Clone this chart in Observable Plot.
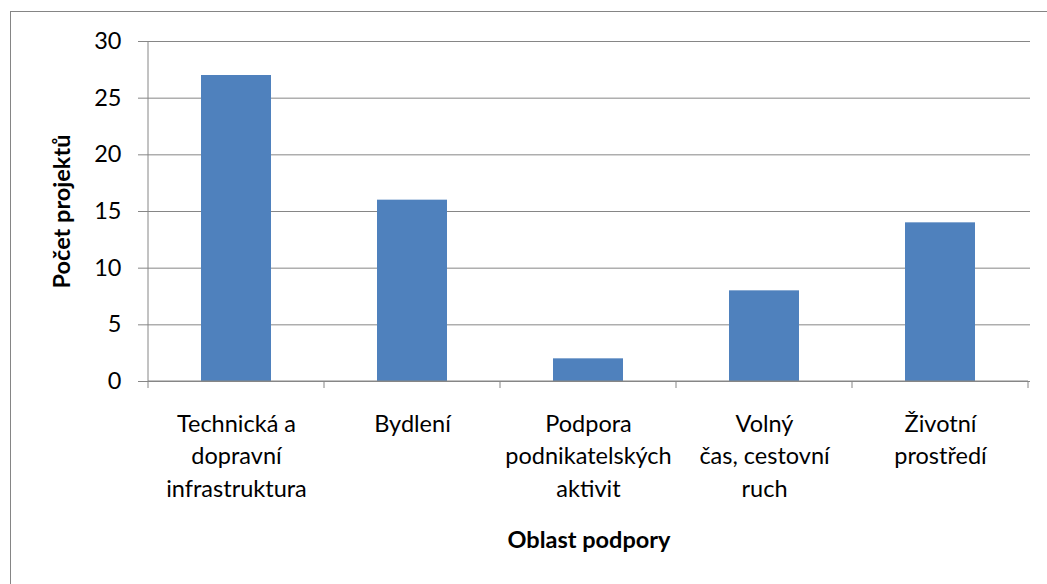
<!DOCTYPE html>
<html>
<head>
<meta charset="utf-8">
<script src="https://cdn.jsdelivr.net/npm/d3@7"></script>
<script src="https://cdn.jsdelivr.net/npm/@observablehq/plot@0.6"></script>
<style>
  html, body { margin: 0; padding: 0; background: #fff; overflow: hidden; }
  #wrap { position: relative; width: 1047px; height: 584px; }
  #chart { position: absolute; left: 0; top: 0; }
  #border { position: absolute; left: 10px; top: 11px; width: 2000px; height: 2000px;
            border-left: 1px solid #858585; border-top: 1px solid #858585; pointer-events: none; }
</style>
</head>
<body>
<div id="wrap"><div id="chart"></div><div id="border"></div></div>
<script>
const categories = ["Technická a dopravní infrastruktura", "Bydlení", "Podpora podnikatelských aktivit", "Volný čas, cestovní ruch", "Životní prostředí"];
const values = [27, 16, 2, 8, 14];
const tickLabels = ["Technická a\ndopravní\ninfrastruktura", "Bydlení", "Podpora\npodnikatelských\naktivit", "Volný\nčas, cestovní\nruch", "Životní\nprostředí"];
const yTicks = [0, 5, 10, 15, 20, 25, 30];
const xTitle = "Oblast podpory";
const yTitle = "Počet projektů";

const data = categories.map((c, i) => ({category: c, value: values[i]}));
const labelOf = new Map(categories.map((c, i) => [c, tickLabels[i]]));
const axisColor = "#868686";
const fs = 23.5;

// axis lines and category-boundary tick marks, positioned from the scales
function axisLines(index, scales, values, dimensions) {
  const x = scales.x, y = scales.y;
  const g = d3.create("svg:g").attr("stroke", axisColor).attr("stroke-width", 1);
  const bw = x.bandwidth ? x.bandwidth() : 0;
  const step = x.step ? x.step() : (x(categories[1]) - x(categories[0]));
  const edges = categories.map(c => x(c) + bw / 2 - step / 2);
  edges.push(x(categories[categories.length - 1]) + bw / 2 + step / 2);
  const y0 = y(0), yTop = y(yTicks[yTicks.length - 1]);
  g.append("line").attr("x1", edges[0]).attr("x2", edges[edges.length - 1]).attr("y1", y0).attr("y2", y0);
  g.append("line").attr("x1", edges[0]).attr("x2", edges[0]).attr("y1", yTop).attr("y2", y0);
  for (const e of edges) {
    g.append("line").attr("x1", e).attr("x2", e).attr("y1", y0).attr("y2", y0 + 7);
  }
  return g.node();
}

const plot = Plot.plot({
  width: 1047,
  height: 584,
  marginLeft: 147,
  marginRight: 17,
  marginTop: 41,
  marginBottom: 203,
  style: {fontFamily: "Lato", fontSize: fs + "px", color: "#000", background: "transparent"},
  x: {domain: categories, paddingInner: 0.6, paddingOuter: 0.3, label: null},
  y: {domain: [0, 30], label: null},
  marks: [
    Plot.gridY(yTicks, {stroke: axisColor, strokeOpacity: 1}),
    Plot.barY(data, {x: "category", y: "value", fill: "#4F81BD"}),
    axisLines,
    Plot.axisY(yTicks, {tickSize: 9, tickPadding: 17, stroke: axisColor, fontSize: fs, label: null}),
    Plot.axisX({tickSize: 0, tickPadding: 27, fontSize: fs, lineHeight: 1.39, tickFormat: d => labelOf.get(d), label: null}),
    Plot.text([xTitle], {frameAnchor: "bottom", dy: 166, text: d => d, fontWeight: "bold", fontSize: fs}),
    Plot.text([yTitle], {frameAnchor: "left", textAnchor: "middle", dx: -85, rotate: -90, text: d => d, fontWeight: "bold", fontSize: fs})
  ]
});
document.getElementById("chart").appendChild(plot);
</script>
</body>
</html>
